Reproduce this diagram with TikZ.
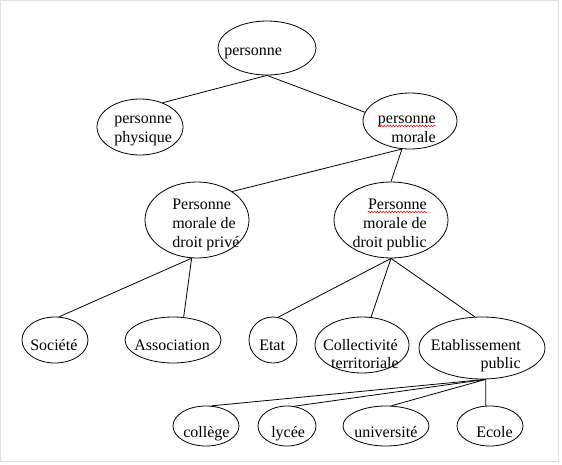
\documentclass[tikz,border=0pt]{standalone}
\usepackage{fontspec}
\setmainfont{Liberation Serif}
\usetikzlibrary{shapes.geometric,decorations.pathmorphing}
\begin{document}
\begin{tikzpicture}[x=0.75pt,y=-0.75pt,
  ell/.style={draw,ellipse,inner sep=0pt,line width=0.6pt},
  txt/.style={inner sep=0pt,font=\fontsize{12}{14}\selectfont},
  link/.style={draw,line width=0.6pt},
  spell/.style={draw=red,line width=0.4pt,decorate,decoration={snake,amplitude=0.6pt,segment length=2.2pt}}]
\useasboundingbox (0,0) rectangle (562,465);
\draw[black!12,line width=0.75pt] (0.5,0.5) rectangle (558.5,461.5);
% ellipses
\node[ell,minimum width=98*0.75pt,minimum height=54*0.75pt] (p) at (267,48) {};
\node[ell,minimum width=86*0.75pt,minimum height=56*0.75pt] (pp) at (140,127) {};
\node[ell,minimum width=94*0.75pt,minimum height=56*0.75pt] (pm) at (410,121) {};
\node[ell,minimum width=104*0.75pt,minimum height=76*0.75pt] (pv) at (197,220) {};
\node[ell,minimum width=114*0.75pt,minimum height=76*0.75pt] (pu) at (391,220) {};
\node[ell,minimum width=66*0.75pt,minimum height=46*0.75pt] (so) at (55,340) {};
\node[ell,minimum width=96*0.75pt,minimum height=46*0.75pt] (as) at (173,340) {};
\node[ell,minimum width=48*0.75pt,minimum height=46*0.75pt] (et) at (273,340) {};
\node[ell,minimum width=94*0.75pt,minimum height=56*0.75pt] (co) at (362,345) {};
\node[ell,minimum width=126*0.75pt,minimum height=62*0.75pt] (eb) at (482,348) {};
\node[ell,minimum width=66*0.75pt,minimum height=40*0.75pt] (cl) at (206,426) {};
\node[ell,minimum width=58*0.75pt,minimum height=40*0.75pt] (ly) at (287,426) {};
\node[ell,minimum width=86*0.75pt,minimum height=40*0.75pt] (un) at (386,426) {};
\node[ell,minimum width=66*0.75pt,minimum height=40*0.75pt] (ec) at (490,426) {};
% texts
\node[txt,anchor=base west] (tp) at (224,55) {personne};
\node[txt,anchor=base west] (tpp1) at (114,123) {personne};
\node[txt,anchor=base west] (tpp2) at (114,142) {physique};
\node[txt,anchor=base east] (tpm1) at (436,123) {personne};
\node[txt,anchor=base east] (tpm2) at (436,142) {morale};
\node[txt,anchor=base west] (tpv1) at (172,209) {Personne};
\node[txt,anchor=base west] (tpv2) at (172,228) {morale de};
\node[txt,anchor=base west] (tpv3) at (172,247) {droit privé};
\node[txt,anchor=base east] (tpu1) at (427,209) {Personne};
\node[txt,anchor=base east] (tpu2) at (427,228) {morale de};
\node[txt,anchor=base east] (tpu3) at (427,247) {droit public};
\node[txt,anchor=base west] (tso) at (30,350) {Société};
\node[txt,anchor=base west] (tas) at (134,350) {Association};
\node[txt,anchor=base west] (tet) at (259,350) {Etat};
\node[txt,anchor=base east] (tco1) at (398,350) {Collectivité};
\node[txt,anchor=base east] (tco2) at (399,368) {territoriale};
\node[txt,anchor=base east] (teb1) at (521,350) {Etablissement};
\node[txt,anchor=base east] (teb2) at (521,368) {public};
\node[txt,anchor=base west] (tcl) at (183,437) {collège};
\node[txt,anchor=base west] (tly) at (271,437) {lycée};
\node[txt,anchor=base west] (tun) at (354,437) {université};
\node[txt,anchor=base west] (tec) at (476,437) {Ecole};
% spell-check marks
\path[spell] ([yshift=-2.2pt]tpm1.base west) -- ([yshift=-2.2pt]tpm1.base east);
\path[spell] ([yshift=-2.2pt]tpu1.base west) -- ([yshift=-2.2pt]tpu1.base east);
% connectors
\path[link] (p.south) -- (pp.47);
\path[link] (p.south) -- (pm.169);
\path[link] (pm.254) -- (pv.39);
\path[link] (pm.254) -- (pu.north);
\path[link] (pv.262) -- (so.80);
\path[link] (pv.262) -- (as.65);
\path[link] (pu.south) -- (et.77);
\path[link] (pu.south) -- (co.72);
\path[link] (pu.south) -- (eb.103);
\path[link] (eb.277) -- (cl.75);
\path[link] (eb.277) -- (ly.70);
\path[link] (eb.277) -- (un.75);
\path[link] (eb.277) -- (ec.102);
\end{tikzpicture}
\end{document}
